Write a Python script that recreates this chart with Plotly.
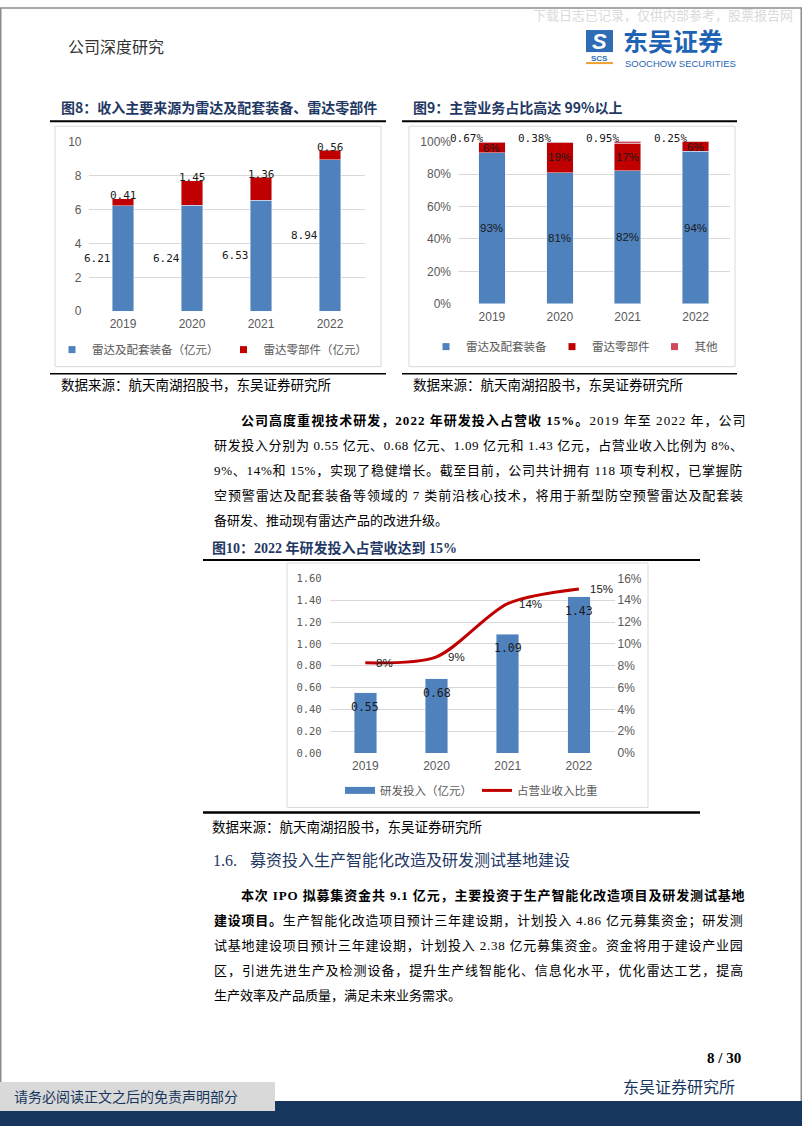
import re
import plotly.graph_objects as go

W, H = 802, 1133
# The viewer places the page 8px lower and fits it into the window height,
# so reference pixel rows are mapped onto the visible 8..1125 band.
TOP, VIS = 8.0, 1117.0


def X(px):
    return px / W


def Y(py):
    return 1 - (py - TOP) / VIS


# ---------------- data ----------------
years = ["2019", "2020", "2021", "2022"]

# 图8: 收入构成（亿元）
radar_equip = [6.21, 6.24, 6.53, 8.94]
radar_parts = [0.41, 1.45, 1.36, 0.56]
fig8_series = ["雷达及配套装备（亿元）", "雷达零部件（亿元）"]
fig8_ticks = [0, 2, 4, 6, 8, 10]

# 图9: 主营业务占比（%）
share_equip = [93.2, 80.8, 82.0, 93.9]
share_parts = [6.1, 18.8, 17.1, 5.9]
share_other = [0.67, 0.38, 0.95, 0.25]
fig9_series = ["雷达及配套装备", "雷达零部件", "其他"]
fig9_ticks = [0, 20, 40, 60, 80, 100]
fig9_ticktext = ["0%", "20%", "40%", "60%", "80%", "100%"]

# 图10: 研发投入（亿元）及占营收比重（%）
rd_invest = [0.55, 0.68, 1.09, 1.43]
rd_ratio = [8.26, 8.81, 13.68, 15.02]
fig10_series = ["研发投入（亿元）", "占营业收入比重"]
fig10_left_ticks = [0, 0.2, 0.4, 0.6, 0.8, 1.0, 1.2, 1.4, 1.6]
fig10_left_ticktext = ["0.00", "0.20", "0.40", "0.60", "0.80", "1.00", "1.20", "1.40", "1.60"]
fig10_right_ticks = [0, 2, 4, 6, 8, 10, 12, 14, 16]
fig10_right_ticktext = ["0%", "2%", "4%", "6%", "8%", "10%", "12%", "14%", "16%"]

# ---------------- page text ----------------
header_title = "公司深度研究"
watermark = "下载日志已记录，仅供内部参考，股票报告网"
logo_cn = "东吴证券"
logo_en = "SOOCHOW SECURITIES"
title8 = "图8：收入主要来源为雷达及配套装备、雷达零部件"
title9 = "图9：主营业务占比高达 99%以上"
title10 = "图10：2022 年研发投入占营收达到 15%"
source_text = "数据来源：航天南湖招股书，东吴证券研究所"
para1 = [
    "<b>公司高度重视技术研发，2022 年研发投入占营收 15%。</b>2019 年至 2022 年，公司",
    "研发投入分别为 0.55 亿元、0.68 亿元、1.09 亿元和 1.43 亿元，占营业收入比例为 8%、",
    "9%、14%和 15%，实现了稳健增长。截至目前，公司共计拥有 118 项专利权，已掌握防",
    "空预警雷达及配套装备等领域的 7 类前沿核心技术，将用于新型防空预警雷达及配套装",
    "备研发、推动现有雷达产品的改进升级。",
]
section_no = "1.6."
section_title = "募资投入生产智能化改造及研发测试基地建设"
para2 = [
    "<b>本次 IPO 拟募集资金共 9.1 亿元，主要投资于生产智能化改造项目及研发测试基地</b>",
    "<b>建设项目。</b>生产智能化改造项目预计三年建设期，计划投入 4.86 亿元募集资金；研发测",
    "试基地建设项目预计三年建设期，计划投入 2.38 亿元募集资金。资金将用于建设产业园",
    "区，引进先进生产及检测设备，提升生产线智能化、信息化水平，优化雷达工艺，提高",
    "生产效率及产品质量，满足未来业务需求。",
]
page_no = "8 / 30"
footer_org = "东吴证券研究所"
footer_note = "请务必阅读正文之后的免责声明部分"

# ---------------- styles ----------------
BLUE = "#4F81BD"
RED = "#C00000"
OTHER = "#D0485A"
GRID = "#D9D9D9"
TICK = "#595959"
NAVY = "#1F3864"
BAND = "#17365D"
CJK = "Noto Sans CJK SC"
SERIF = "Liberation Serif, Noto Sans CJK SC"
SANS = "Liberation Sans, Noto Sans CJK SC"
MONO = "DejaVu Sans Mono"
LBL = "#1a1a1a"


def est_width(s, size):
    w = 0.0
    special = {" ": 0.25, ".": 0.25, "%": 0.833, "I": 0.36, "P": 0.58, "O": 0.75}
    for ch in s:
        if ord(ch) >= 0x2E80:
            w += size
        elif ch.isdigit():
            w += 0.5 * size
        elif ch in special:
            w += special[ch] * size
        else:
            w += 0.55 * size
    return w


def justify(markup, x0, x1, size):
    plain = re.sub(r"<[^>]+>", "", markup)
    nat = est_width(plain, size)
    ls = (x1 - x0 - nat) / max(len(plain) - 1, 1)
    ls = max(min(ls, 3.0), 0.0)
    return '<span style="letter-spacing:%.2fpx">%s</span>' % (ls, markup)


annotations = []
shapes = []


def text(t, x, y, size, color="#000000", family=CJK, xanchor="left"):
    annotations.append(dict(text=t, x=X(x), y=Y(y), xref="paper", yref="paper",
                            xanchor=xanchor, yanchor="middle", showarrow=False,
                            font=dict(size=size, color=color, family=family)))


def label(t, xi, yv, xref, yref, family, size, xshift=0, yshift=0, xanchor="center"):
    annotations.append(dict(text=t, x=xi, y=yv, xref=xref, yref=yref, xanchor=xanchor,
                            yanchor="middle", showarrow=False, xshift=xshift, yshift=yshift,
                            font=dict(family=family, size=size, color=LBL)))


def hline(x0, x1, y, width, color="#000000"):
    shapes.append(dict(type="line", xref="paper", yref="paper", x0=X(x0), x1=X(x1),
                       y0=Y(y), y1=Y(y), line=dict(color=color, width=width)))


def rect(x0, y0, x1, y1, fill=None, line_color=None, lw=0, raw=False):
    if raw:
        yy0, yy1 = y0, y1
    else:
        yy0, yy1 = Y(y1), Y(y0)
    shapes.append(dict(type="rect", xref="paper", yref="paper", x0=X(x0), x1=X(x1),
                       y0=yy0, y1=yy1, fillcolor=fill or "rgba(0,0,0,0)",
                       line=dict(color=line_color or "rgba(0,0,0,0)", width=lw),
                       layer="below"))


fig = go.Figure()

# ---------------- 图8 ----------------
fig.add_trace(go.Bar(x=years, y=radar_equip, name=fig8_series[0], marker=dict(color=BLUE),
                     width=0.31, xaxis="x", yaxis="y", showlegend=False, hoverinfo="skip"))
fig.add_trace(go.Bar(x=years, y=radar_parts, name=fig8_series[1], marker=dict(color=RED),
                     width=0.31, xaxis="x", yaxis="y", showlegend=False, hoverinfo="skip"))
for nm, col in zip(fig8_series, [BLUE, RED]):
    fig.add_trace(go.Scatter(x=[None], y=[None], mode="markers", name=nm, xaxis="x", yaxis="y",
                             marker=dict(symbol="square", size=7, color=col), legend="legend"))
for i, (e, p) in enumerate(zip(radar_equip, radar_parts)):
    label(f"{e:.2f}", i, e / 2, "x", "y", MONO, 11, xshift=-26)
    label(f"{p:.2f}", i, e + p, "x", "y", MONO, 11, yshift=3)

# ---------------- 图9 ----------------
for vals, nm, col in zip([share_equip, share_parts, share_other], fig9_series, [BLUE, RED, OTHER]):
    fig.add_trace(go.Bar(x=years, y=vals, name=nm, marker=dict(color=col), width=0.39,
                         xaxis="x2", yaxis="y2", showlegend=False, hoverinfo="skip"))
for nm, col in zip(fig9_series, [BLUE, RED, OTHER]):
    fig.add_trace(go.Scatter(x=[None], y=[None], mode="markers", name=nm, xaxis="x2", yaxis="y2",
                             marker=dict(symbol="square", size=7, color=col), legend="legend2"))
for i, (e, p, o) in enumerate(zip(share_equip, share_parts, share_other)):
    label(f"{e:.0f}%", i, e / 2, "x2", "y2", SANS, 11.5)
    label(f"{p:.0f}%", i, e + p / 2, "x2", "y2", SANS, 11.5)
    label(f"{o:.2f}%", i, min(e + p + o, 100), "x2", "y2", MONO, 11, xshift=-25, yshift=3)

# ---------------- 图10 ----------------
fig.add_trace(go.Bar(x=years, y=rd_invest, name=fig10_series[0], marker=dict(color=BLUE), width=0.316,
                     xaxis="x3", yaxis="y3", showlegend=False, hoverinfo="skip"))
fig.add_trace(go.Scatter(x=[None], y=[None], mode="lines", name=fig10_series[0], xaxis="x3", yaxis="y3",
                         line=dict(color=BLUE, width=7), legend="legend3", legendrank=1))
fig.add_trace(go.Scatter(x=years, y=rd_ratio, mode="lines", name=fig10_series[1], xaxis="x3", yaxis="y4",
                         line=dict(color=RED, width=3, shape="spline", smoothing=0.8),
                         legend="legend3", legendrank=2, hoverinfo="skip"))
for i, v in enumerate(rd_invest):
    label(f"{v:.2f}", i, v, "x3", "y3", MONO, 11.5, yshift=-14)
for i, r in enumerate(rd_ratio):
    label(f"{r:.0f}%", i, r, "x3", "y4", SANS, 11.5, xshift=9, xanchor="left")

# ---------------- page decoration ----------------
rect(0.75, 0.002, 801.25, 0.999, line_color="#8c8c8c", lw=1.5, raw=True)
text(watermark, 531, 15, 13, color="#DADADA", family=CJK)
text(header_title, 66, 47, 16, color="#333333", family=CJK)
# logo
rect(586, 31, 613, 53, fill="#2E6DB4")
text("<b><i>S</i></b>", 599.5, 42, 22, color="#FFFFFF", family="Liberation Sans", xanchor="center")
text("<b>SCS</b>", 599.5, 59, 8, color="#2E6DB4", family="Liberation Sans", xanchor="center")
hline(586, 613, 64, 2, color="#F0A030")
text("<b>" + logo_cn + "</b>", 621, 40.5, 25, color="#1F64B4", family=CJK)
text(logo_en, 623, 64, 9.5, color="#1F64B4", family="Liberation Sans")

# chart 8 frame
text("<b>" + title8 + "</b>", 59, 108, 14, color=NAVY, family=CJK)
hline(50, 386, 122, 2)
rect(55, 127, 381, 367, line_color=GRID, lw=1)
hline(50, 386, 374, 1.5)
text(source_text, 59, 384, 13.5, family=CJK)
# chart 9 frame
text("<b>" + title9 + "</b>", 411, 108, 14, color=NAVY, family=CJK)
hline(402, 737, 122, 2)
rect(409, 127, 735, 367, line_color=GRID, lw=1)
hline(402, 737, 374, 1.5)
text(source_text, 411, 384, 13.5, family=CJK)
# chart 10 frame
text("<b>" + title10 + "</b>", 210, 548, 14, color=NAVY, family=SERIF)
hline(203, 700, 560, 2)
rect(287, 563, 648, 807, line_color=GRID, lw=1)
hline(203, 700, 812, 2.5)
text(source_text, 210, 826, 13.5, family=CJK)

# paragraphs
BODY = 13
for i, ln in enumerate(para1):
    x0 = 238.5 if i == 0 else 212
    t = ln if i == len(para1) - 1 else justify(ln, x0, 741, BODY)
    text(t, x0, 421 + 25 * i, BODY, family=SERIF)
text(section_no, 211, 860, 16, color=NAVY, family=SERIF)
text(section_title, 248, 860, 16, color=NAVY, family=SERIF)
for i, ln in enumerate(para2):
    x0 = 238.5 if i == 0 else 212
    t = ln if i == len(para2) - 1 else justify(ln, x0, 741, BODY)
    text(t, x0, 895 + 25 * i, BODY, family=SERIF)

# footer
rect(0, 1100, 802, 1125, fill=BAND)
rect(0, 1081, 275, 1110, fill="#D9D9D9")
text("<b>" + page_no + "</b>", 743, 1057, 15, family="Liberation Serif", xanchor="right")
text(footer_org, 621, 1085, 16, color=BAND, family=CJK)
text(footer_note, 12, 1095, 14, color=BAND, family=CJK)


# ---------------- axes ----------------
def xcat(domain, anchor):
    return dict(domain=domain, anchor=anchor, type="category", categoryorder="array",
                categoryarray=years, range=[-0.5, 3.5], showgrid=False, zeroline=False,
                showline=False, ticks="", ticklabelstandoff=4,
                tickfont=dict(family=SANS, size=12, color=TICK), fixedrange=True)


def yval(domain, anchor, rng, tickvals, **kw):
    d = dict(domain=domain, anchor=anchor, range=rng, tickmode="array", tickvals=tickvals,
             showgrid=True, gridcolor=GRID, gridwidth=1, zeroline=False, showline=False, ticks="",
             ticklabelstandoff=6, tickfont=dict(family=SANS, size=12, color=TICK), fixedrange=True)
    d.update(kw)
    return d


leg_common = dict(orientation="h", xanchor="left", yanchor="middle", traceorder="normal",
                  bgcolor="rgba(0,0,0,0)", font=dict(family=CJK, size=11.5, color=TICK))

fig.update_layout(
    width=W, height=H, margin=dict(l=0, r=0, t=0, b=0),
    paper_bgcolor="white", plot_bgcolor="rgba(0,0,0,0)",
    barmode="stack", showlegend=True,
    xaxis=xcat([X(88.5), X(364.5)], "y"),
    yaxis=yval([Y(311.7), Y(142.3)], "x", [0, 10], fig8_ticks),
    xaxis2=xcat([X(458), X(729.5)], "y2"),
    yaxis2=yval([Y(304.3), Y(142.3)], "x2", [0, 100], fig9_ticks, ticktext=fig9_ticktext),
    xaxis3=xcat([X(329.7), X(614.5)], "y3"),
    yaxis3=yval([Y(752.7), Y(578.3)], "x3", [0, 1.6], fig10_left_ticks, ticktext=fig10_left_ticktext,
                tickfont=dict(family=MONO, size=10.5, color=TICK), ticklabelstandoff=7),
    yaxis4=dict(overlaying="y3", side="right", anchor="x3", range=[0, 16], tickmode="array",
                tickvals=fig10_right_ticks, ticktext=fig10_right_ticktext,
                showgrid=False, zeroline=False, showline=False, ticks="",
                ticklabelstandoff=2, tickfont=dict(family=SANS, size=12, color=TICK), fixedrange=True),
    legend=dict(leg_common, x=X(52), y=Y(350)),
    legend2=dict(leg_common, x=X(426), y=Y(347)),
    legend3=dict(leg_common, x=X(340), y=Y(790)),
    annotations=annotations,
    shapes=shapes,
)

fig.write_html("out.html", config={"displayModeBar": False})
